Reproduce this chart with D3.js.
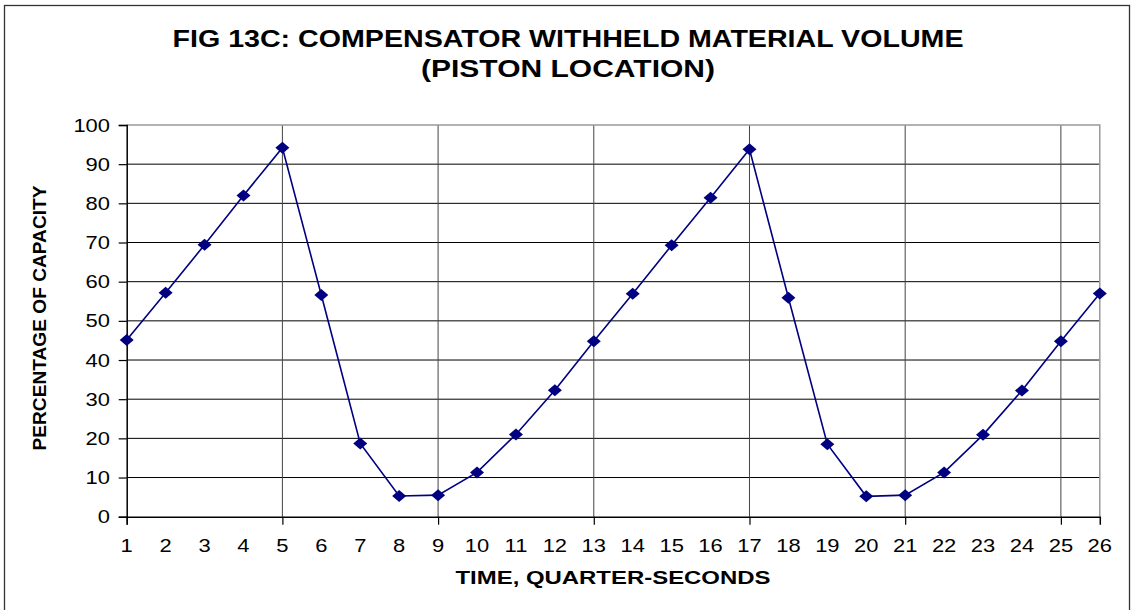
<!DOCTYPE html>
<html><head><meta charset="utf-8">
<script src="https://cdn.jsdelivr.net/npm/d3@7"></script>
<style>body{margin:0;background:#fff}svg{display:block}text{font-family:"Liberation Sans",Arial,sans-serif}</style>
</head><body><svg id="c" width="1132" height="610"></svg>
<script>
const titleLines = ["FIG 13C: COMPENSATOR WITHHELD MATERIAL VOLUME", "(PISTON LOCATION)"];
const xTitle = "TIME, QUARTER-SECONDS";
const yTitle = "PERCENTAGE OF CAPACITY";
const categories = d3.range(1, 27);
const values = [45.1, 57.2, 69.4, 82.0, 94.2, 56.6, 18.7, 5.3, 5.5, 11.3, 21.0, 32.3, 44.8,
                56.9, 69.3, 81.4, 93.8, 55.9, 18.5, 5.2, 5.5, 11.3, 20.9, 32.2, 44.8, 57.0];
const yTicks = d3.range(0, 101, 10);
const xGridTicks = [1, 5, 9, 13, 17, 21, 25];

const svg = d3.select("#c");
const L = 126.7, R = 1099.8, T = 125, B = 516.7;
const SX = 1.22; // horizontal stretch of glyphs
const x = d3.scaleLinear().domain([1, 26]).range([L, R]);
const y = d3.scaleLinear().domain([0, 100]).range([B, T]);

// outer border
svg.append("rect").attr("x", 4.5).attr("y", 5.5).attr("width", 1125).attr("height", 610)
  .attr("fill", "none").attr("stroke", "#333").attr("stroke-width", 1.3);

// horizontal grid
svg.append("g").selectAll("line").data(yTicks.filter(d => d > 0 && d < 100)).join("line")
  .attr("x1", L).attr("x2", R).attr("y1", d => y(d)).attr("y2", d => y(d))
  .attr("stroke", "#000").attr("stroke-width", 1);
// vertical grid
svg.append("g").selectAll("line").data(xGridTicks.filter(d => d > 1)).join("line")
  .attr("x1", d => x(d)).attr("x2", d => x(d)).attr("y1", T).attr("y2", B)
  .attr("stroke", "#444").attr("stroke-width", 1);
// plot border top/right gray
svg.append("path").attr("d", `M${L},${T}H${R}V${B}`).attr("fill", "none")
  .attr("stroke", "#999").attr("stroke-width", 1.5);

// y axis
const yAxis = svg.append("g").attr("transform", `translate(${L},0)`)
  .call(d3.axisLeft(y).tickValues(yTicks).tickSize(8).tickFormat(""));
yAxis.select(".domain").attr("stroke", "#000").attr("stroke-width", 1.5);
yAxis.selectAll(".tick line").attr("stroke", "#000").attr("stroke-width", 1.2);
svg.append("g").selectAll("text").data(yTicks).join("text")
  .attr("transform", d => `translate(110,${y(d) + 6.5}) scale(${SX},1)`)
  .attr("text-anchor", "end").attr("font-size", 18).attr("fill", "#000").text(d => d);

// x axis
const xAxis = svg.append("g").attr("transform", `translate(0,${B})`)
  .call(d3.axisBottom(x).tickValues(xGridTicks).tickSize(8).tickFormat(""));
xAxis.select(".domain").attr("stroke", "#000").attr("stroke-width", 1.5);
xAxis.selectAll(".tick line").attr("stroke", "#000").attr("stroke-width", 1.2);
svg.append("g").selectAll("text").data(categories).join("text")
  .attr("transform", d => `translate(${x(d)},552) scale(${SX},1)`)
  .attr("text-anchor", "middle").attr("font-size", 18).attr("fill", "#000").text(d => d);

// line
const navy = "#000080";
svg.append("path").datum(values)
  .attr("d", d3.line().x((d, i) => x(categories[i])).y(d => y(d)))
  .attr("fill", "none").attr("stroke", navy).attr("stroke-width", 1.6);
svg.append("g").selectAll("path").data(values).join("path")
  .attr("transform", (d, i) => `translate(${x(categories[i])},${y(d)})`)
  .attr("d", "M0,-6L7,0L0,6L-7,0Z").attr("fill", navy);

// titles
const tl = [791, 294];
svg.append("g").selectAll("text").data(titleLines).join("text")
  .attr("x", 568).attr("y", (d, i) => 47 + i * 30).attr("text-anchor", "middle")
  .attr("textLength", (d, i) => tl[i]).attr("lengthAdjust", "spacingAndGlyphs")
  .attr("font-size", 24).attr("font-weight", "bold").attr("fill", "#000").text(d => d);
svg.append("text").attr("x", 613).attr("y", 584).attr("text-anchor", "middle")
  .attr("textLength", 315).attr("lengthAdjust", "spacingAndGlyphs")
  .attr("font-size", 18).attr("font-weight", "bold").text(xTitle);
svg.append("text").attr("transform", "translate(46,318) rotate(-90)").attr("text-anchor", "middle")
  .attr("textLength", 265).attr("lengthAdjust", "spacingAndGlyphs")
  .attr("font-size", 18).attr("font-weight", "bold").text(yTitle);
</script></body></html>
